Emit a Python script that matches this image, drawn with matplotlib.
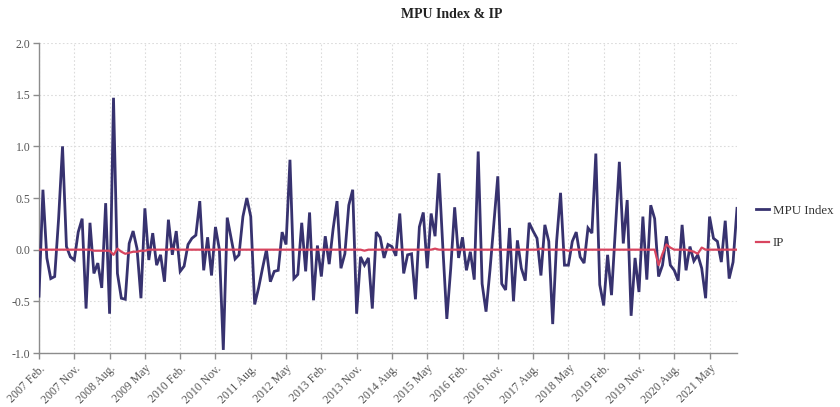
import matplotlib
matplotlib.use("Agg")
import matplotlib.pyplot as plt

plt.rcParams["font.family"] = ["Liberation Serif", "DejaVu Serif"]

start_year = 2007
start_month = 2  # February

mpu_index = [
    -0.45, 0.58, -0.08, -0.28, -0.26, 0.30, 1.00, 0.03, -0.07, -0.10,
    0.17, 0.30, -0.57, 0.26, -0.23, -0.13, -0.37, 0.45, -0.62, 1.47,
    -0.23, -0.47, -0.48, 0.06, 0.18, 0.01, -0.47, 0.40, -0.10, 0.16,
    -0.15, -0.05, -0.31, 0.29, -0.05, 0.18, -0.21, -0.16, 0.05, 0.11,
    0.14, 0.47, -0.20, 0.12, -0.25, 0.22, 0.00, -0.97, 0.31, 0.11,
    -0.09, -0.05, 0.32, 0.50, 0.32, -0.53, -0.37, -0.18, 0.00, -0.31,
    -0.21, -0.20, 0.17, 0.05, 0.87, -0.28, -0.24, 0.26, -0.21, 0.36,
    -0.49, 0.04, -0.26, 0.13, -0.14, 0.20, 0.47, -0.18, -0.04, 0.43,
    0.58, -0.62, -0.07, -0.15, -0.08, -0.57, 0.17, 0.12, -0.08, 0.05,
    0.03, -0.06, 0.35, -0.23, -0.05, -0.04, -0.48, 0.22, 0.36, -0.18,
    0.35, 0.13, 0.74, 0.01, -0.67, -0.18, 0.41, -0.08, 0.12, -0.20,
    -0.02, -0.29, 0.95, -0.33, -0.60, -0.20, 0.25, 0.71, -0.33, -0.39,
    0.21, -0.50, 0.09, -0.18, -0.30, 0.26, 0.18, 0.11, -0.25, 0.24,
    0.08, -0.72, 0.08, 0.55, -0.15, -0.15, 0.08, 0.17, -0.07, -0.13,
    0.21, 0.16, 0.93, -0.34, -0.54, -0.05, -0.44, 0.20, 0.85, 0.06,
    0.48, -0.64, -0.08, -0.41, 0.32, -0.29, 0.43, 0.30, -0.26, -0.15,
    0.13, -0.15, -0.20, -0.30, 0.24, -0.20, 0.03, -0.11, -0.05, -0.18,
    -0.47, 0.32, 0.11, 0.08, -0.12, 0.28, -0.28, -0.12, 0.40,
]

ip = [
    0.00, 0.00, 0.00, 0.00, 0.00, 0.00, 0.00, 0.00, 0.00, 0.00,
    0.00, 0.00, 0.00, 0.00, -0.01, -0.01, -0.01, -0.01, -0.01, -0.05,
    0.01, -0.02, -0.04, -0.03, -0.02, -0.02, -0.01, -0.01, 0.00, 0.00,
    0.00, 0.00, 0.00, 0.00, 0.01, 0.00, 0.00, 0.00, 0.00, 0.00,
    0.00, 0.00, 0.00, 0.00, 0.00, 0.00, 0.00, 0.00, 0.00, 0.00,
    0.00, 0.00, 0.00, 0.00, 0.00, 0.00, 0.00, 0.00, 0.00, 0.00,
    0.00, 0.00, 0.00, 0.00, 0.00, 0.00, 0.00, 0.00, 0.00, 0.00,
    0.00, 0.00, 0.00, 0.00, 0.00, 0.00, 0.00, 0.00, 0.00, 0.00,
    0.00, 0.00, 0.00, -0.01, 0.00, 0.00, 0.00, 0.00, 0.00, 0.00,
    0.00, 0.00, 0.00, 0.00, 0.00, 0.00, 0.00, 0.00, 0.00, 0.00,
    0.00, 0.01, 0.00, 0.00, 0.00, 0.00, 0.00, 0.00, 0.00, 0.00,
    0.00, 0.00, 0.00, 0.00, 0.00, 0.00, 0.00, 0.00, 0.00, 0.00,
    0.00, 0.00, 0.00, 0.00, 0.00, 0.00, 0.00, 0.00, 0.01, 0.00,
    0.00, 0.00, 0.00, 0.00, 0.00, -0.01, 0.00, 0.00, 0.00, 0.00,
    0.00, 0.00, 0.00, 0.00, 0.00, 0.00, 0.00, 0.00, 0.00, 0.00,
    0.00, 0.00, 0.00, 0.00, 0.00, 0.00, 0.00, 0.00, -0.15, -0.04,
    0.05, 0.02, 0.00, 0.00, 0.00, 0.00, -0.01, -0.02, -0.04, 0.02,
    0.00, 0.00, 0.00, 0.00, 0.00, 0.00, 0.00, 0.00, 0.00,
]

tick_labels = [
    "2007 Feb.", "2007 Nov.", "2008 Aug.", "2009 May", "2010 Feb.",
    "2010 Nov.", "2011 Aug.", "2012 May", "2013 Feb.", "2013 Nov.",
    "2014 Aug.", "2015 May", "2016 Feb.", "2016 Nov.", "2017 Aug.",
    "2018 May", "2019 Feb.", "2019 Nov.", "2020 Aug.", "2021 May",
]
tick_step = 9  # months between labelled ticks

mpu_color = "#37326f"
ip_color = "#d8455f"
axis_color = "#8c8c8c"
text_color = "#555555"
grid_color = "#dcdcdc"

fig = plt.figure(figsize=(8.4, 4.07), dpi=100)
ax = fig.add_axes([39 / 840, 1 - 353 / 407, (737 - 39) / 840, (353 - 43) / 407])

x = list(range(len(mpu_index)))
ax.plot(x, mpu_index, color=mpu_color, lw=2.0, label="MPU Index", zorder=3,
        solid_joinstyle="miter")
ax.plot(x, ip, color=ip_color, lw=1.6, label="IP", zorder=4)

ax.set_xlim(0, len(mpu_index) - 1)
ax.set_ylim(-1.0, 2.0)
ax.set_yticks([-1.0, -0.5, 0.0, 0.5, 1.0, 1.5, 2.0])
ax.set_yticklabels([f"{v:.1f}" for v in [-1.0, -0.5, 0.0, 0.5, 1.0, 1.5, 2.0]])

xt = [i * tick_step for i in range(len(tick_labels))]
ax.set_xticks(xt)
ax.set_xticklabels(tick_labels, rotation=45, ha="right", rotation_mode="anchor")

ax.grid(True, color=grid_color, linestyle=(0, (1.5, 2)), lw=0.8, zorder=0)

for side in ("top", "right"):
    ax.spines[side].set_visible(False)
for side in ("left", "bottom"):
    ax.spines[side].set_color(axis_color)
    ax.spines[side].set_linewidth(1.0)

ax.tick_params(axis="both", colors=axis_color, length=4, width=1.0,
               labelcolor=text_color, labelsize=8.5)
ax.tick_params(axis="x", pad=3)
ax.tick_params(axis="y", pad=2)

fig.text(452 / 840, 1 - 15 / 407, "MPU Index & IP", ha="center", va="center",
         fontsize=10, fontweight="bold", color="#222222")

fig.legend(loc="center left", bbox_to_anchor=(756 / 840, 1 - 227 / 407),
           frameon=False, borderpad=0, borderaxespad=0,
           handlelength=1.0, handletextpad=0.3,
           labelspacing=1.6, fontsize=9.3, labelcolor="#333333")

fig.savefig("out.png", dpi=100)
